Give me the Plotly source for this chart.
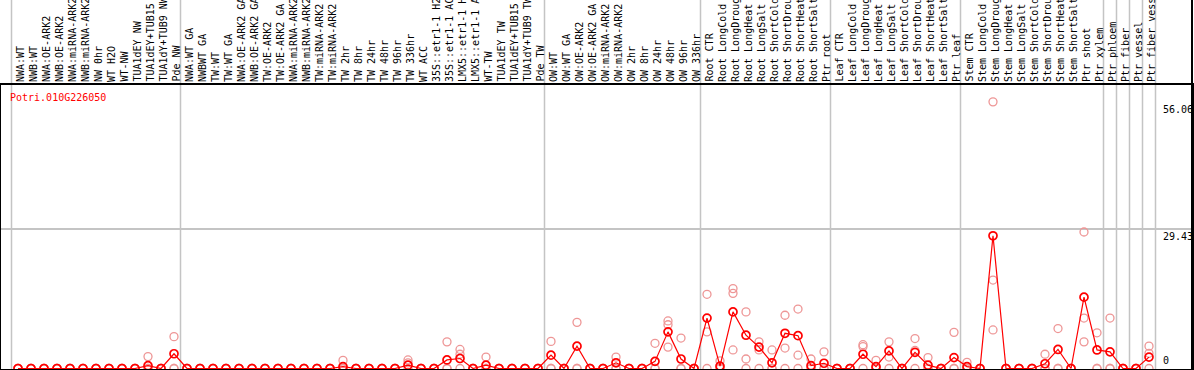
import plotly.graph_objects as go

gene_id = "Potri.010G226050"

categories = [
    "NWA:WT", "NWB:WT", "NWA:OE-ARK2", "NWB:OE-ARK2", "NWA:miRNA-ARK2", "NWB:miRNA-ARK2",
    "NW 0hr", "WT H2O", "WT-NW", "TUA1dEY NW", "TUA1dEY+TUB15 NW", "TUA1dY+TUB9 NW", "Pde NW",
    "NWA:WT GA", "NWBWT GA", "TW:WT", "TW:WT GA", "NWA:OE-ARK2 GA", "NWB:OE-ARK2 GA",
    "TW:OE-ARK2", "TW:OE-ARK2 GA", "NWA:miRNA-ARK2", "NWB:miRNA-ARK2", "TW:miRNA-ARK2",
    "TW:miRNA-ARK2", "TW 2hr", "TW 8hr", "TW 24hr", "TW 48hr", "TW 96hr", "TW 336hr", "WT ACC",
    "35S::etr1-1 H2O", "35S::etr1-1 ACC", "LMX5::etr1-1 H2O", "LMX5::etr1-1 ACC", "WT-TW",
    "TUA1dEY TW", "TUA1dEY+TUB15 TW", "TUA1dY+TUB9 TW", "Pde TW",
    "OW:WT", "OW:WT GA", "OW:OE-ARK2", "OW:OE-ARK2 GA", "OW:miRNA-ARK2", "OW:miRNA-ARK2",
    "OW 2hr", "OW 8hr", "OW 24hr", "OW 48hr", "OW 96hr", "OW 336hr",
    "Root CTR", "Root LongCold", "Root LongDrought", "Root LongHeat", "Root LongSalt",
    "Root ShortCold", "Root ShortDrought", "Root ShortHeat", "Root ShortSalt", "Ptr root",
    "Leaf CTR", "Leaf LongCold", "Leaf LongDrought", "Leaf LongHeat", "Leaf LongSalt",
    "Leaf ShortCold", "Leaf ShortDrought", "Leaf ShortHeat", "Leaf ShortSalt", "Ptr leaf",
    "Stem CTR", "Stem LongCold", "Stem LongDrought", "Stem LongHeat", "Stem LongSalt",
    "Stem ShortCold", "Stem ShortDrought", "Stem ShortHeat", "Stem ShortSalt", "Ptr shoot",
    "Ptr xylem", "Ptr phloem", "Ptr fiber", "Ptr vessel", "Ptr fiber vessel",
]

# number of samples in each experiment block (separated by grey lines)
group_sizes = [13, 28, 12, 10, 10, 11, 1, 1, 1, 1]

mean_expr = [
    0, 0, 0, 0, 0, 0, 0, 0, 0, 0,
    0.6, 0, 3.1, 0, 0, 0, 0, 0, 0, 0,
    0, 0, 0, 0, 0, 0.4, 0, 0, 0, 0,
    0.7, 0, 0, 1.8, 2.1, 0, 0.7, 0, 0, 0,
    0, 2.8, 0, 4.7, 0, 0, 1.2, 0, 0, 1.5,
    7.7, 2.0, 0, 10.6, 0.5, 11.9, 7.0, 4.5, 1.2, 7.4,
    6.9, 0.6, 1.1, 0, 0, 3.0, 0.4, 3.7, 0, 3.4,
    0.7, 0, 2.3, 0.4, 0, 27.9, 0, 0, 0, 1.0,
    4.0, 0, 15.0, 3.9, 3.5, 0, 0, 2.4,
]

rep_1 = [
    0, 0, 0, 0, 0, 0, 0, 0, 0, 0,
    2.5, 0, 6.7, 0, 0, 0, 0, 0, 0, 0,
    0, 0, 0, 0, 0, 1.7, 0, 0, 0, 0,
    1.8, 0, 0, 5.6, 4.0, 0, 2.4, 0, 0, 0,
    0, 5.7, 0, 9.7, 0, 0, 2.4, 0, 0, 5.3,
    10.0, 6.4, 0, 15.6, 1.6, 16.8, 11.9, 5.6, 3.9, 11.2,
    12.5, 2.0, 3.5, 0, 0, 5.0, 1.7, 5.6, 0, 6.3,
    2.3, 0, 7.6, 1.3, 0, 56.06, 0, 0, 0, 3.0,
    8.4, 0, 28.7, 7.5, 10.6, 0, 0, 4.7,
]

rep_2 = [
    0, 0, 0, 0, 0, 0, 0, 0, 0, 0,
    0, 0, 0, 0, 0, 0, 0, 0, 0, 0,
    0, 0, 0, 0, 0, 0, 0, 0, 0, 0,
    1.2, 0, 0, 0, 3.0, 0, 0, 0, 0, 0,
    0, 0, 0, 0, 0, 0, 0, 0, 0, 0,
    9.2, 0, 0, 7.7, 0, 15.8, 2.0, 3.9, 0, 4.3,
    2.8, 0, 0, 0, 0, 4.6, 0, 2.4, 0, 3.8,
    0, 0, 0, 0, 0, 18.6, 0, 0, 0, 0,
    0, 0, 10.6, 0, 0, 0, 0, 3.2,
]

rep_3 = [
    0, 0, 0, 0, 0, 0, 0, 0, 0, 0,
    0, 0, 0, 0, 0, 0, 0, 0, 0, 0,
    0, 0, 0, 0, 0, 0, 0, 0, 0, 0,
    0, 0, 0, 0, 0, 0, 0, 0, 0, 0,
    0, 0, 0, 0, 0, 0, 0, 0, 0, 0,
    4.5, 0, 0, 0, 0, 3.9, 0, 0, 0, 0,
    0, 0, 0, 0, 0, 0, 0, 0, 0, 0,
    0, 0, 0, 0, 0, 8.1, 0, 0, 0, 0,
    0, 0, 5.6, 0, 0, 0, 0, 0,
]

y_tick_values = [0, 29.43, 56.06]
y_tick_labels = ["0", "29.43", "56.06"]

MONO = "DejaVu Sans Mono"
RED = "#ff0000"
PINK = "rgb(238,150,150)"
GRID = "#c4c4c4"

xs = list(range(len(categories)))

fig = go.Figure()
for rep in (rep_1, rep_2, rep_3):
    fig.add_trace(go.Scatter(
        x=xs, y=rep, mode="markers", showlegend=False, hoverinfo="skip",
        marker=dict(symbol="circle-open", size=8, color=PINK, line=dict(width=1.3)),
    ))
fig.add_trace(go.Scatter(
    x=xs, y=mean_expr, mode="lines+markers", showlegend=False,
    line=dict(color=RED, width=1.2),
    marker=dict(symbol="circle-open", size=8, color=RED, line=dict(width=1.7)),
))

# group separators
bounds = [-0.5]
acc = 0
for g in group_sizes:
    acc += g
    bounds.append(acc - 0.5)
shapes = []
for b in bounds:
    shapes.append(dict(type="line", xref="x", yref="paper", x0=b, x1=b, y0=0, y1=1.6,
                       line=dict(color=GRID, width=1.5), layer="below"))
# right border extending through the header
shapes.append(dict(type="line", xref="paper", yref="paper", x0=1, x1=1, y0=0, y1=1.6,
                   line=dict(color="black", width=2)))

annotations = [dict(
    text=gene_id, xref="paper", yref="paper", x=0, y=1, xanchor="left", yanchor="top",
    xshift=7, yshift=-5, showarrow=False, font=dict(family=MONO, size=10, color=RED),
)]
for v, t in zip(y_tick_values, y_tick_labels):
    annotations.append(dict(
        text=t, xref="paper", yref="y", x=1, y=v, xanchor="left",
        yanchor="bottom" if v == 0 else "top", xshift=-31, yshift=1 if v == 0 else 0,
        showarrow=False, font=dict(family=MONO, size=10, color="black"),
    ))
# vertical sample labels in the header
for i, c in zip(xs, categories):
    annotations.append(dict(
        text=c, xref="x", yref="paper", x=i, y=1, xanchor="center", yanchor="bottom",
        textangle=-90, xshift=2, yshift=1, showarrow=False,
        font=dict(family=MONO, size=10, color="black"),
    ))

x_min = -17 / 13
x_max = x_min + 1191 / 13

fig.update_layout(
    width=1194, height=370,
    margin=dict(l=1, r=2, t=85, b=1),
    paper_bgcolor="white", plot_bgcolor="white",
    shapes=shapes, annotations=annotations,
    font=dict(family=MONO, size=10, color="black"),
    xaxis=dict(
        side="top", range=[x_min, x_max], showticklabels=False,
        showgrid=False, zeroline=False, ticks="", automargin=False,
        showline=True, linecolor="black", linewidth=1.5, mirror=True,
    ),
    yaxis=dict(
        range=[-0.105, 59.6], tickmode="array", tickvals=[y_tick_values[1]],
        showticklabels=False, showgrid=True, gridcolor=GRID, gridwidth=1.5,
        zeroline=False, ticks="", automargin=False,
        showline=True, linecolor="black", linewidth=1.5, mirror=True,
    ),
)

fig.write_html(
    "out.html",
    config={"displayModeBar": False},
    post_script="document.body.style.margin='0px';document.body.style.overflow='hidden';",
)
